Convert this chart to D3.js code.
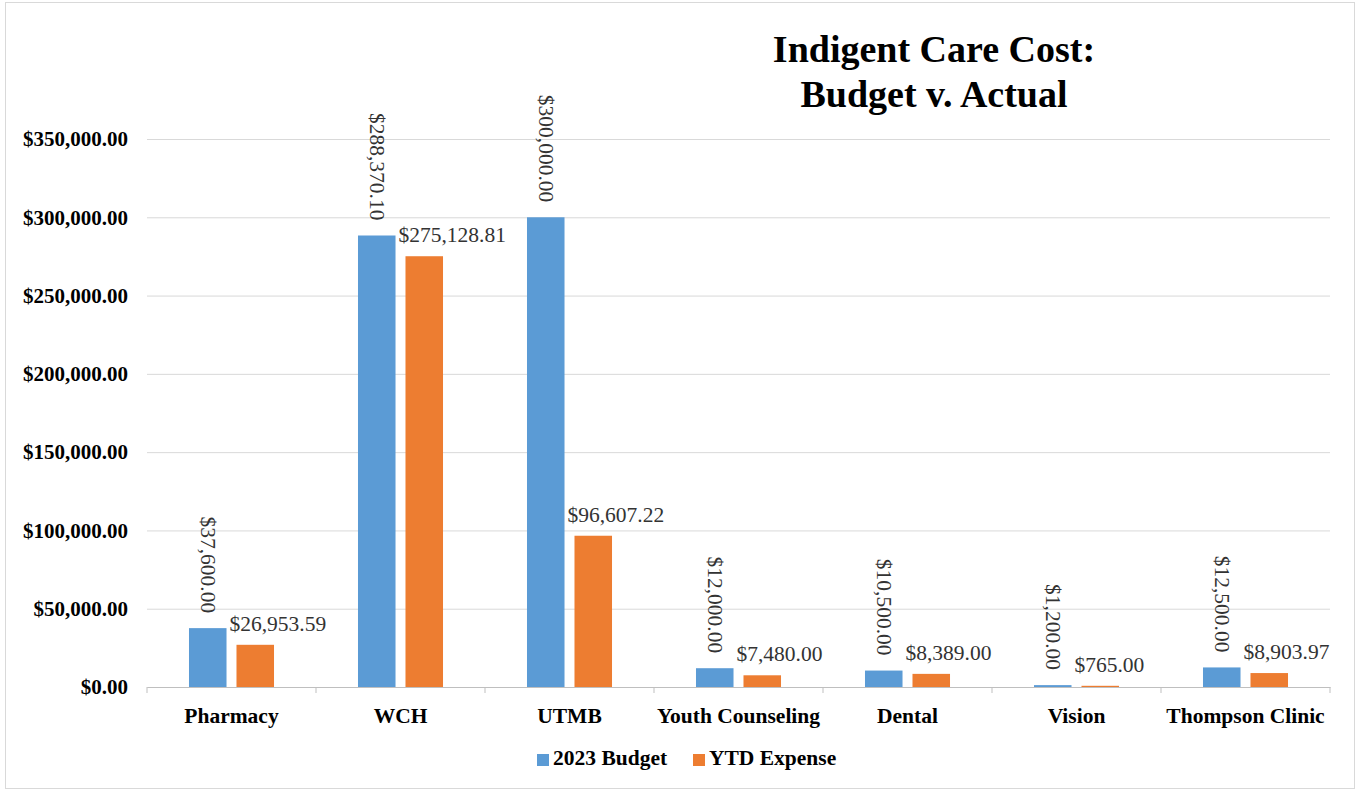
<!DOCTYPE html>
<html>
<head>
<meta charset="utf-8">
<script src="https://cdn.jsdelivr.net/npm/d3@7"></script>
<style>
  body { margin: 0; background: #fff; }
  svg { display: block; font-family: "Liberation Serif", "Times New Roman", serif; }
</style>
</head>
<body>
<div id="wrapper"></div>
<script>
const categories = ["Pharmacy", "WCH", "UTMB", "Youth Counseling", "Dental", "Vision", "Thompson Clinic"]
const seriesNames = ["2023 Budget", "YTD Expense"]
const budget = [37600.00, 288370.10, 300000.00, 12000.00, 10500.00, 1200.00, 12500.00]
const ytdExpense = [26953.59, 275128.81, 96607.22, 7480.00, 8389.00, 765.00, 8903.97]
const yTicks = [0, 50000, 100000, 150000, 200000, 250000, 300000, 350000]
const colors = ["#5B9BD5", "#ED7D31"]

function drawChart() {
    const dataset = categories.map((c, i) => ({
        category: c,
        values: [
            { series: seriesNames[0], value: budget[i] },
            { series: seriesNames[1], value: ytdExpense[i] }
        ]
    }))

    let dimensions = {
        width: 1359,
        height: 791,
        margin: { top: 139, right: 29, bottom: 104, left: 147 }
    }
    dimensions.boundedWidth = dimensions.width - dimensions.margin.left - dimensions.margin.right
    dimensions.boundedHeight = dimensions.height - dimensions.margin.top - dimensions.margin.bottom

    const money = v => "$" + d3.format(",.2f")(v)

    const wrapper = d3.select("#wrapper")
        .append("svg")
        .attr("width", dimensions.width)
        .attr("height", dimensions.height)

    // chart border
    wrapper.append("rect")
        .attr("x", 5.5).attr("y", 2.5)
        .attr("width", 1349).attr("height", 786)
        .attr("fill", "none")
        .attr("stroke", "#d9d9d9")

    const bounds = wrapper.append("g")
        .attr("transform", `translate(${dimensions.margin.left},${dimensions.margin.top})`)

    const xScale = d3.scaleBand()
        .domain(categories)
        .range([0, dimensions.boundedWidth])
        .padding(0)

    const x1Scale = d3.scaleBand()
        .domain(seriesNames)
        .range([0, xScale.bandwidth()])
        .paddingInner(0.21)
        .paddingOuter(0.884)

    const yScale = d3.scaleLinear()
        .domain([0, 350000])
        .range([dimensions.boundedHeight, 0])

    // gridlines + y tick labels
    const yAxisGenerator = d3.axisLeft(yScale)
        .tickValues(yTicks)
        .tickSize(-dimensions.boundedWidth)
        .tickPadding(19)
        .tickFormat(money)

    const yAxis = bounds.append("g").call(yAxisGenerator)
    yAxis.select(".domain").remove()
    yAxis.selectAll(".tick line").attr("stroke", "#d9d9d9")
    yAxis.selectAll(".tick text")
        .attr("fill", "#000")
        .style("font-family", "Liberation Serif, serif")
        .style("font-size", "21px")
        .style("font-weight", "bold")

    // bars
    const groups = bounds.selectAll(".cat")
        .data(dataset)
        .enter().append("g")
        .attr("class", "cat")
        .attr("transform", d => `translate(${xScale(d.category)},0)`)

    groups.selectAll("rect")
        .data(d => d.values)
        .enter().append("rect")
        .attr("x", d => x1Scale(d.series))
        .attr("y", d => yScale(d.value))
        .attr("width", x1Scale.bandwidth())
        .attr("height", d => dimensions.boundedHeight - yScale(d.value))
        .attr("fill", (d, i) => colors[i])

    // budget labels (rotated)
    groups.append("text")
        .attr("transform", d => {
            const v = d.values[0]
            return `translate(${x1Scale(v.series) + x1Scale.bandwidth() / 2},${yScale(v.value) - 15}) rotate(90)`
        })
        .attr("text-anchor", "end")
        .attr("dy", "0.33em")
        .style("font-size", "21.5px")
        .attr("fill", "#333")
        .text(d => money(d.values[0].value))

    // expense labels
    groups.append("text")
        .attr("x", d => x1Scale(d.values[1].series) - 7)
        .attr("y", d => yScale(d.values[1].value) - 14)
        .style("font-size", "21.5px")
        .attr("fill", "#333")
        .text(d => money(d.values[1].value))

    // x axis
    const xAxisGenerator = d3.axisBottom(xScale)
        .tickSize(0)
        .tickPadding(21)

    const xAxis = bounds.append("g")
        .attr("transform", `translate(0,${dimensions.boundedHeight})`)
        .call(xAxisGenerator)
    xAxis.select(".domain").attr("stroke", "#bfbfbf")
    xAxis.selectAll(".tick text")
        .attr("fill", "#000")
        .style("font-family", "Liberation Serif, serif")
        .style("font-size", "21.5px")
        .style("font-weight", "bold")

    const boundaries = categories.map(c => xScale(c)).concat([dimensions.boundedWidth])
    xAxis.selectAll(".sep")
        .data(boundaries)
        .enter().append("line")
        .attr("class", "sep")
        .attr("x1", d => d).attr("x2", d => d)
        .attr("y1", 0).attr("y2", 6)
        .attr("stroke", "#bfbfbf")

    // title
    const title = wrapper.append("text")
        .attr("x", 934)
        .attr("y", 62)
        .attr("text-anchor", "middle")
        .style("font-size", "38px")
        .style("font-weight", "bold")
    title.append("tspan").attr("x", 934).text("Indigent Care Cost:")
    title.append("tspan").attr("x", 934).attr("y", 107).text("Budget v. Actual")

    // legend
    const legendX = [537, 693]
    const legend = wrapper.selectAll(".legend")
        .data(seriesNames)
        .enter().append("g")
        .attr("class", "legend")
        .attr("transform", (d, i) => `translate(${legendX[i]},765)`)
    legend.append("rect")
        .attr("x", 0).attr("y", -11)
        .attr("width", 12).attr("height", 12)
        .attr("fill", (d, i) => colors[i])
    legend.append("text")
        .attr("x", 16)
        .attr("y", 0)
        .style("font-size", "21.5px")
        .style("font-weight", "bold")
        .text(d => d)
}

drawChart()
</script>
</body>
</html>
